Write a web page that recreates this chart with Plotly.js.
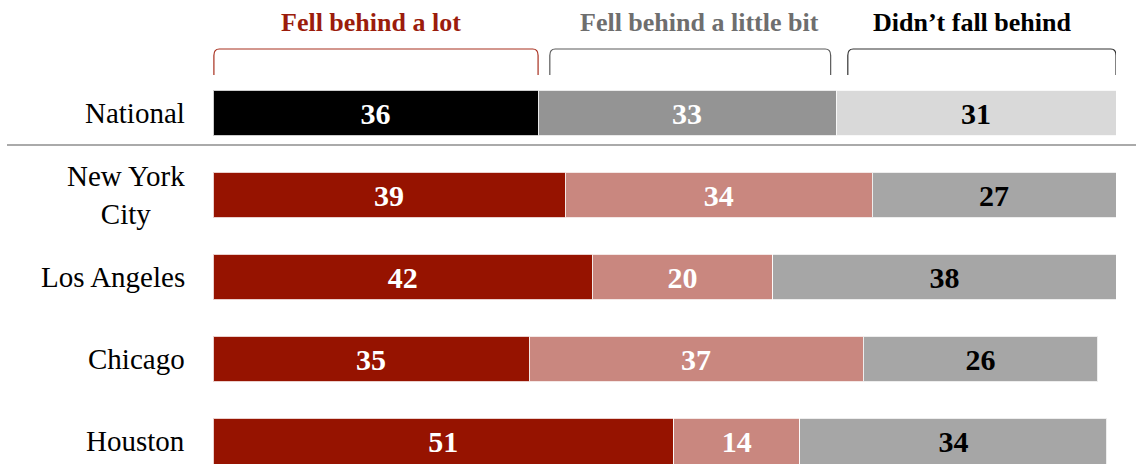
<!DOCTYPE html>
<html>
<head>
<meta charset="utf-8">
<script src="https://cdn.plot.ly/plotly-3.0.1.min.js"></script>
<style>html,body{margin:0;padding:0;background:#fff;}#chart{width:1136px;height:464px;}</style>
</head>
<body>
<div id="chart"></div>
<script>
// Data
const categories = ["National", "New York City", "Los Angeles", "Chicago", "Houston"];
const categoryLabels = ["National", "New York<br>City", "Los Angeles", "Chicago", "Houston"];
const seriesNames = ["Fell behind a lot", "Fell behind a little bit", "Didn\u2019t fall behind"];
const fellBehindALot = [36, 39, 42, 35, 51];
const fellBehindALittle = [33, 34, 20, 37, 14];
const didntFallBehind = [31, 27, 38, 26, 34];

// Styles
const nationalColors = ["#000000", "#949494", "#d9d9d9"];
const cityColors = ["#961300", "#c9877f", "#a6a6a6"];
const textColors = ["#ffffff", "#ffffff", "#000000"];
const headerColors = ["#9b1c0c", "#6e6e6e", "#000000"];
const bracketColors = ["#a8301f", "#5a5a5a", "#333333"];
const headerShift = [-0.5, 1.0, -1.1];
const serif = "Liberation Serif, Times New Roman, serif";

const series = [fellBehindALot, fellBehindALittle, didntFallBehind];
const traces = series.map((vals, s) => ({
  type: "bar",
  orientation: "h",
  name: seriesNames[s],
  y: categories,
  x: vals,
  width: 0.56,
  marker: {
    color: categories.map((c, i) => i === 0 ? nationalColors[s] : cityColors[s]),
    line: {color: "rgba(255,255,255,0.8)", width: 1}
  },
  text: vals.map(String),
  textposition: "inside",
  insidetextanchor: "middle",
  textangle: 0,
  constraintext: "none",
  textfont: {family: serif, size: 30, weight: "bold", color: textColors[s]},
  hoverinfo: "none",
  cliponaxis: false
}));

// Header annotations & brackets derived from national values
const annotations = [];
const shapes = [];
let cum = 0;
const yTop = 1 - 49 / 464, yBot = 1 - 75 / 464, r = 0.014, rx = 0.6;
const nat = series.map(v => v[0]);
nat.forEach((v, s) => {
  const start = cum, end = cum + v;
  cum = end;
  const x0 = start + (s === 0 ? 0.1 : 1.3);
  const x1 = end - (s === 1 ? 0.6 : 0);
  annotations.push({
    xref: "x", yref: "paper",
    x: (x0 + x1) / 2 + headerShift[s], y: 1 - 22 / 464,
    text: "<b>" + seriesNames[s] + "</b>",
    showarrow: false, xanchor: "center", yanchor: "middle",
    font: {family: serif, size: 26, color: headerColors[s]}
  });
  shapes.push({
    type: "path", xref: "x", yref: "paper",
    path: `M ${x0},${yBot} L ${x0},${yTop - r} Q ${x0},${yTop} ${x0 + rx},${yTop} L ${x1 - rx},${yTop} Q ${x1},${yTop} ${x1},${yTop - r} L ${x1},${yBot}`,
    line: {color: bracketColors[s], width: 1.2}
  });
});

// Category labels
categories.forEach((c, i) => {
  annotations.push({
    xref: "paper", yref: "y",
    x: -26 / 903, y: c,
    text: categoryLabels[i],
    showarrow: false, xanchor: "right", yanchor: "middle", align: "center",
    font: {family: serif, size: 29, color: "#000000"}
  });
});

// Separator line
shapes.push({
  type: "line", xref: "paper", yref: "paper",
  x0: -206 / 903, x1: 923 / 903,
  y0: 1 - 145 / 464, y1: 1 - 145 / 464,
  line: {color: "#aaaaaa", width: 2}
});

const layout = {
  width: 1136, height: 464,
  margin: {l: 213, r: 20, t: 0, b: 0, pad: 0},
  barmode: "stack",
  showlegend: false,
  paper_bgcolor: "#ffffff",
  plot_bgcolor: "#ffffff",
  xaxis: {range: [0, 100], visible: false, fixedrange: true},
  yaxis: {
    type: "category",
    categoryorder: "array", categoryarray: categories,
    range: [4.28, -1.378],
    showticklabels: false, showgrid: false, zeroline: false, showline: false, ticks: "",
    fixedrange: true
  },
  annotations: annotations,
  shapes: shapes
};

Plotly.newPlot("chart", traces, layout, {displayModeBar: false, staticPlot: true});
</script>
</body>
</html>
